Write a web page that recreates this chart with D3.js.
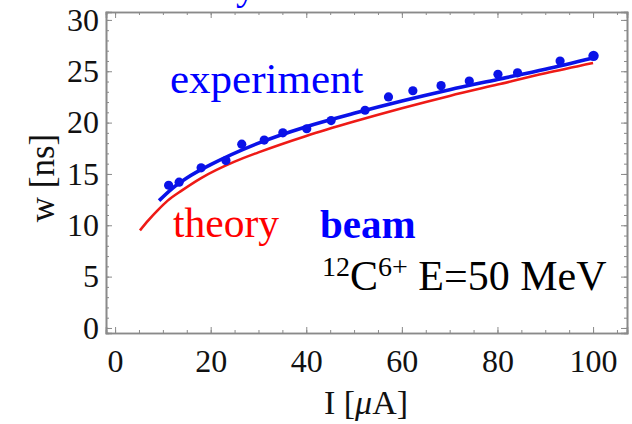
<!DOCTYPE html>
<html><head><meta charset="utf-8">
<script src="https://cdn.jsdelivr.net/npm/d3@7"></script>
<style>
html,body{margin:0;padding:0;background:#fff;}
svg{display:block;}
text{font-family:"Liberation Serif","Times New Roman",serif;}
</style></head>
<body><svg id="c" width="632" height="424"></svg>
<script>
// measured data (I in µA, w in ns)
const expI = [11.2, 13.4, 18.0, 23.2, 26.5, 31.2, 35.1, 40.1, 45.2, 52.3, 57.2, 62.3, 68.2, 74.1, 80.1, 84.2, 93.1, 100.1];
const expW = [13.9, 14.2, 15.6, 16.3, 17.9, 18.3, 19.0, 19.4, 20.2, 21.2, 22.5, 23.1, 23.6, 24.05, 24.7, 24.85, 26.0, 26.5];
// experiment fit curve
const fitI = [9.2, 12, 15, 20, 30, 40, 50, 60, 70, 80, 90, 100];
const fitW = [12.4, 13.6, 14.6, 15.9, 18.0, 19.6, 20.9, 22.1, 23.2, 24.2, 25.2, 26.3];
// theory curve
const thI = [5.2, 7, 9, 11, 14, 18, 25, 30, 40, 50, 60, 70, 80, 90, 100];
const thW = [9.5, 10.5, 11.5, 12.4, 13.4, 14.6, 16.2, 17.1, 18.7, 20.1, 21.4, 22.6, 23.7, 24.8, 25.8];
const xTicks = [0, 20, 40, 60, 80, 100];
const yTicks = [0, 5, 10, 15, 20, 25, 30];

const svg = d3.select("#c");
const L = 106, R = 627, T = 12, B = 333;
const x = d3.scaleLinear().domain([-1.9, 107.1]).range([L, R]);
const y = d3.scaleLinear().domain([-0.49, 30.77]).range([B, T]);
const frameCol = "#8a8a8a";

function styleAxis(g){
  g.select(".domain").attr("stroke", frameCol).attr("stroke-width", 1.6);
  g.selectAll(".tick line").attr("stroke", frameCol).attr("stroke-width", 1);
  g.selectAll(".tick text").attr("fill", "#111").attr("font-family", "Liberation Serif").attr("font-size", 32);
}
const xMinor = d3.range(0, 106, 5);
const yMinor = d3.range(0, 31, 1);

// minor ticks
svg.append("g").attr("transform", `translate(0,${B})`)
  .call(d3.axisBottom(x).tickValues(xMinor).tickSize(-3).tickFormat("")).call(styleAxis);
svg.append("g").attr("transform", `translate(0,${T})`)
  .call(d3.axisTop(x).tickValues(xMinor).tickSize(-3).tickFormat("")).call(styleAxis);
svg.append("g").attr("transform", `translate(${L},0)`)
  .call(d3.axisLeft(y).tickValues(yMinor).tickSize(-3).tickFormat("")).call(styleAxis);
svg.append("g").attr("transform", `translate(${R},0)`)
  .call(d3.axisRight(y).tickValues(yMinor).tickSize(-3).tickFormat("")).call(styleAxis);
// major ticks
svg.append("g").attr("transform", `translate(0,${B})`)
  .call(d3.axisBottom(x).tickValues(xTicks).tickSize(-6).tickPadding(16).tickFormat(d3.format("d"))).call(styleAxis);
svg.append("g").attr("transform", `translate(0,${T})`)
  .call(d3.axisTop(x).tickValues(xTicks).tickSize(-6).tickFormat("")).call(styleAxis);
svg.append("g").attr("transform", `translate(${L},0)`)
  .call(d3.axisLeft(y).tickValues(yTicks).tickSize(-6).tickPadding(7).tickFormat(d3.format("d"))).call(styleAxis);
svg.append("g").attr("transform", `translate(${R},0)`)
  .call(d3.axisRight(y).tickValues(yTicks).tickSize(-6).tickFormat("")).call(styleAxis);

// curves
const line = d3.line().x(d => x(d[0])).y(d => y(d[1])).curve(d3.curveMonotoneX);
svg.append("path").datum(thI.map((v,i)=>[v, thW[i]]))
  .attr("d", line).attr("fill", "none").attr("stroke", "#ee1a16").attr("stroke-width", 2.6);
svg.append("path").datum(fitI.map((v,i)=>[v, fitW[i]]))
  .attr("d", line).attr("fill", "none").attr("stroke", "#0a12e8").attr("stroke-width", 3.6);
svg.selectAll("circle.pt").data(expI.map((v,i)=>[v, expW[i]])).enter().append("circle")
  .attr("class","pt").attr("cx", d => x(d[0])).attr("cy", d => y(d[1]))
  .attr("r", (d,i) => i === expI.length-1 ? 5.2 : 4.6).attr("fill", "#0a12e8");

// annotations
svg.append("text").attr("x", 236).attr("y", -1).attr("fill", "#0000ff").attr("font-size", 40).text("y");
svg.append("text").attr("x", 170).attr("y", 93).attr("fill", "#0000ff").attr("font-size", 43).text("experiment");
svg.append("text").attr("x", 173).attr("y", 237).attr("fill", "#ff0000").attr("font-size", 41.5).text("theory");
svg.append("text").attr("x", 320).attr("y", 238).attr("fill", "#0000ff").attr("font-size", 41).attr("font-weight", "bold").text("beam");
const f = svg.append("text").attr("x", 322).attr("y", 290).attr("fill", "#000").attr("font-size", 42);
f.append("tspan").attr("font-size", 28).attr("dy", -14).text("12");
f.append("tspan").attr("dy", 14).text("C");
f.append("tspan").attr("font-size", 28).attr("dy", -14).text("6+");
f.append("tspan").attr("dy", 14).text("\u00A0E=50 MeV");

// axis labels
const xl = svg.append("text").attr("x", 366).attr("y", 414).attr("text-anchor", "middle").attr("font-size", 34).attr("fill", "#111");
xl.append("tspan").text("I [");
xl.append("tspan").attr("font-style", "italic").text("\u03BC");
xl.append("tspan").text("A]");
svg.append("text").attr("transform", "translate(54,178) rotate(-90)").attr("text-anchor", "middle")
  .attr("font-size", 35).attr("fill", "#111").text("w [ns]");
</script></body></html>
